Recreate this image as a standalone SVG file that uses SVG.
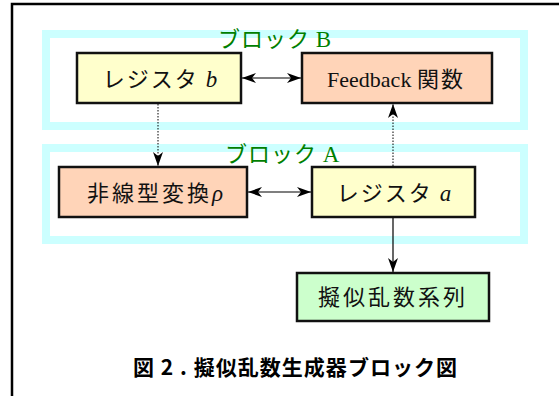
<svg xmlns="http://www.w3.org/2000/svg" width="559" height="396" viewBox="0 0 559 396">
<defs>
<style>
.frame{fill:none;stroke:#000;stroke-width:2.5}
.blk{fill:none;stroke:#ccffff;stroke-width:8}
.lbl{font-family:"Noto Sans CJK JP","Liberation Sans",sans-serif;font-size:22px;fill:#008000;letter-spacing:1px}
.lblr{font-family:"Liberation Serif",serif;font-size:23px;fill:#008000}
.node{stroke:#111;stroke-width:2.5}
.yel{fill:#ffffcc}
.pch{fill:#ffd4b8}
.grn{fill:#ccffcc}
.t{font-family:"Noto Sans CJK JP","Liberation Sans",sans-serif;font-size:22px;fill:#111;letter-spacing:2px}
.it{font-family:"Liberation Serif",serif;font-style:italic;font-size:23px;fill:#111;letter-spacing:0}
.ser{font-family:"Liberation Serif",serif;font-size:22px;fill:#111;letter-spacing:0}
.ln{stroke:#000;stroke-width:1.2;fill:none}
.dot{stroke:#000;stroke-width:1;stroke-dasharray:1.5,1.5;fill:none}
.cap{font-family:"Noto Sans CJK JP","Liberation Sans",sans-serif;font-size:21px;font-weight:bold;fill:#000}
</style>
<marker id="ah" markerUnits="userSpaceOnUse" markerWidth="15" markerHeight="11" refX="14" refY="5" orient="auto-start-reverse">
<path d="M0,0 L14,5 L0,10 L4,5 z" fill="#000"/>
</marker>
</defs>
<rect width="559" height="396" fill="#fff"/>
<path class="frame" d="M12,396 L12,4 L559,4"/>
<g id="blockB">
<rect class="blk" x="46" y="34" width="478" height="92"/>
<text x="218" y="47"><tspan class="lbl">ブロック</tspan><tspan class="lblr"> B</tspan></text>
</g>
<g id="blockA">
<rect class="blk" x="46" y="148" width="478" height="92"/>
<text x="225" y="162"><tspan class="lbl">ブロック</tspan><tspan class="lblr"> A</tspan></text>
</g>
<g id="connectors">
<line class="ln" x1="242" y1="78" x2="301" y2="78" marker-start="url(#ah)" marker-end="url(#ah)"/>
<line class="ln" x1="248" y1="192" x2="311" y2="192" marker-start="url(#ah)" marker-end="url(#ah)"/>
<line class="dot" x1="158" y1="104" x2="158" y2="166" marker-end="url(#ah)"/>
<line class="dot" x1="393" y1="166" x2="393" y2="104" marker-end="url(#ah)"/>
<line class="ln" x1="393" y1="218" x2="393" y2="272" marker-end="url(#ah)"/>
</g>
<g id="regB">
<rect class="node yel" x="77" y="53" width="164" height="50"/>
<text class="t" x="160" y="87" text-anchor="middle">レジスタ <tspan class="it">b</tspan></text>
</g>
<g id="feedback">
<rect class="node pch" x="302" y="53" width="190" height="50"/>
<text class="t" x="396" y="87" text-anchor="middle"><tspan class="ser">Feedback </tspan>関数</text>
</g>
<g id="nonlinear">
<rect class="node pch" x="59" y="167" width="188" height="50"/>
<text class="t" x="155" y="201" text-anchor="middle" style="letter-spacing:3px">非線型変換<tspan class="it">ρ</tspan></text>
</g>
<g id="regA">
<rect class="node yel" x="312" y="167" width="163" height="50"/>
<text class="t" x="394" y="201" text-anchor="middle">レジスタ <tspan class="it">a</tspan></text>
</g>
<g id="output">
<rect class="node grn" x="297" y="273" width="192" height="48"/>
<text class="t" x="393" y="305" text-anchor="middle" style="letter-spacing:3px">擬似乱数系列</text>
</g>
<text class="cap" x="133" y="375" textLength="324" lengthAdjust="spacing">図 2 . 擬似乱数生成器ブロック図</text>
</svg>
